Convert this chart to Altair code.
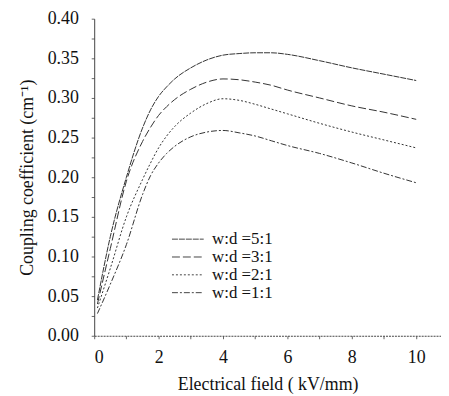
import altair as alt
import pandas as pd

field = [0.1, 0.5, 1.0, 1.5, 1.75, 2.0, 2.25, 2.5, 3.0, 3.5, 4.0, 4.5, 5.0, 5.5, 6.0, 7.0, 8.0, 9.0, 10.0]
r51 = [0.045, 0.125, 0.200, 0.262, 0.285, 0.302, 0.314, 0.324, 0.338, 0.348, 0.354, 0.356, 0.357, 0.357, 0.355, 0.347, 0.338, 0.330, 0.322]
r31 = [0.040, 0.110, 0.195, 0.245, 0.263, 0.278, 0.289, 0.298, 0.311, 0.320, 0.324, 0.323, 0.320, 0.316, 0.310, 0.300, 0.290, 0.282, 0.273]
r21 = [0.035, 0.085, 0.150, 0.197, 0.218, 0.237, 0.252, 0.264, 0.281, 0.293, 0.299, 0.297, 0.292, 0.286, 0.280, 0.268, 0.257, 0.247, 0.237]
r11 = [0.028, 0.065, 0.115, 0.178, 0.202, 0.218, 0.230, 0.239, 0.251, 0.257, 0.259, 0.256, 0.252, 0.246, 0.240, 0.230, 0.218, 0.205, 0.193]
labels = ["w:d =5:1", "w:d =3:1", "w:d =2:1", "w:d =1:1"]

rows = []
for lab, ser in zip(labels, [r51, r31, r21, r11]):
    for x, y in zip(field, ser):
        rows.append({"field": x, "k": y, "ratio": lab})
df = pd.DataFrame(rows)

font = "Liberation Serif"

chart = alt.Chart(df).mark_line(strokeWidth=1, interpolate="monotone").encode(
    x=alt.X("field:Q", scale=alt.Scale(domain=[0, 10.77], nice=False),
            axis=alt.Axis(title="Electrical field ( kV/mm)", values=list(range(0, 11)),
                          labelExpr="datum.value % 2 == 0 ? datum.label : ''",
                          grid=False, tickSize=3, domainDash=[2, 1],
                          labelPadding=10, titlePadding=9)),
    y=alt.Y("k:Q", scale=alt.Scale(domain=[0, 0.40], nice=False),
            axis=alt.Axis(title="Coupling coefficient (cm⁻¹)",
                          values=[i * 0.025 for i in range(17)],
                          labelExpr="round(datum.value*1000) % 50 == 0 ? format(datum.value, '.2f') : ''",
                          grid=False, tickSize=3, labelPadding=13, titlePadding=11)),
    strokeDash=alt.StrokeDash("ratio:N", sort=labels,
                              scale=alt.Scale(domain=labels,
                                              range=[[6, 1], [8, 3], [2, 2], [6, 2, 2, 2]]),
                              legend=alt.Legend(title=None, orient="none", legendX=86, legendY=214,
                                                symbolType="M-2,0H2", symbolSize=256,
                                                symbolStrokeWidth=1, symbolStrokeColor="#444",
                                                symbolFillColor="transparent",
                                                rowPadding=0, labelFont=font, labelFontSize=17,
                                                labelColor="#111", labelOffset=16)),
    color=alt.value("#333"),
).properties(width=350, height=320, padding={"left": 10, "top": 0, "right": 0, "bottom": 0}
).configure_view(stroke=None).configure_axis(
    labelFont=font, titleFont=font, labelFontSize=18, titleFontSize=18,
    labelColor="#111", titleColor="#111", domainColor="#444", tickColor="#666",
    titleFontWeight="normal"
)

chart.save("out.html", embed_options={"renderer": "svg", "actions": False})
